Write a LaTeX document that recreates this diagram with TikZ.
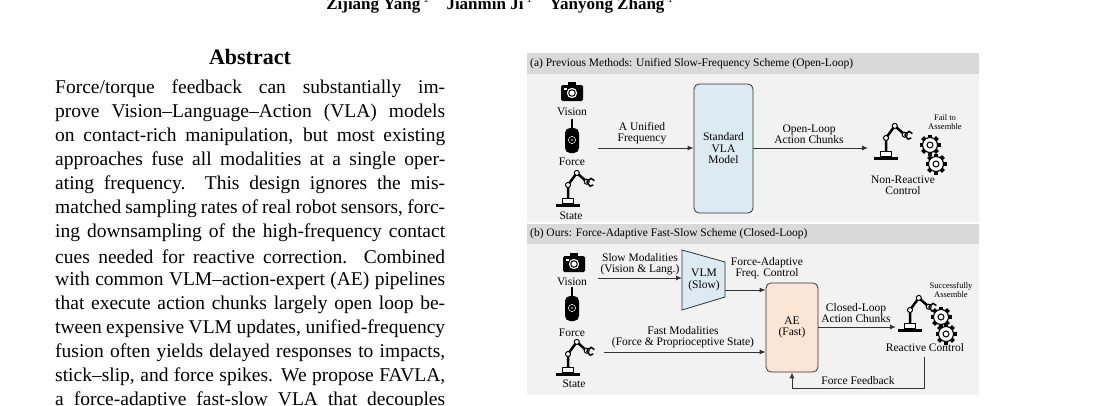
\documentclass[tikz,border=0pt]{standalone}
\usepackage{fontspec}
\setmainfont{Liberation Serif}
\usetikzlibrary{arrows.meta}
\definecolor{hdr}{HTML}{D9D9D9}
\definecolor{pnl}{HTML}{F2F2F2}
\definecolor{vla}{HTML}{DCEAF2}
\definecolor{ae}{HTML}{FBE6D6}
\begin{document}
\begin{tikzpicture}[x=1pt,y=-1pt,
  lbl/.style={font=\fontsize{11.5}{11.5}\selectfont,align=center,inner sep=0pt},
  sm/.style={font=\fontsize{8.5}{9.5}\selectfont,align=center,inner sep=0pt},
  hd/.style={font=\fontsize{11.5}{12}\selectfont,anchor=west,inner sep=0pt},
  arr/.style={-{Latex[length=6pt,width=5pt]},line width=0.9pt,draw=black!80},
  box/.style={draw=black!80,line width=0.8pt,rounded corners=5pt},
  ab/.style={font=\fontsize{19.5}{24}\selectfont,anchor=west,inner sep=0pt},
  camera/.pic={\fill[black,rounded corners=1.5pt] (-11,-7) rectangle (11,9);
     \fill[black] (-4,-10) rectangle (4,-6);
     \fill[white] (0,1) circle (5.2); \fill[black] (0,1) circle (3.8); \fill[white] (0,1) circle (2.6);
     \fill[white] (-8,-4) rectangle (-5,-2.5);},
  sensor/.pic={\draw[black,line width=2.5pt] (0,-18) -- (0,-8);
     \fill[black,rounded corners=5pt] (-7,-9) rectangle (7,16);
     \draw[white,line width=0.5pt] (0,3) circle (3.6); \fill[white] (0,3) circle (0.8);},
  robot/.pic={\begin{scope}[scale=1.1]
     \fill[black] (-11,0) rectangle (11,-3);
     \draw[black,line width=1.4pt,fill=white] (-5,-3) rectangle (5,-8);
     \draw[black,line width=2.5pt] (0,-8) -- (0,-20) -- (8,-31) -- (17,-23);
     \foreach \p in {(0,-20),(8,-31),(17,-23)} \draw[black,line width=1pt,fill=white] \p circle (2.3);
     \draw[black,line width=1.5pt] (17,-23) -- ++(4,-3) -- ++(3,2);
     \draw[black,line width=1.5pt] (17,-23) -- ++(3,4) -- ++(3,-1);
     \end{scope}},
  gear/.pic={\foreach \a in {0,45,...,315}
       \fill[black,rotate=\a] (-2,-10.5) rectangle (2,-6);
     \draw[black,line width=1.1pt,fill=white] (0,0) circle (7.5);
     \draw[black,line width=1pt] (0,0) circle (3);}
]
\useasboundingbox (0,0) rectangle (1104,405);
\clip (0,0) rectangle (1104,405);
\fill[white] (0,0) rectangle (1104,405);
\node[font=\fontsize{17}{18}\bfseries\selectfont,inner sep=0pt] (title) at (500,4)
  {Zijiang Yang\,$^{1}$\quad Jianmin Ji\,$^{1}$\quad Yanyong Zhang\,$^{1}$};
\node[font=\fontsize{22}{24}\bfseries\selectfont,inner sep=0pt] (abs) at (250,57) {Abstract};
\foreach \t [count=\i] in {
 {Force/torque feedback can substantially im-},
 {prove Vision–Language–Action (VLA) models},
 {on contact-rich manipulation, but most existing},
 {approaches fuse all modalities at a single oper-},
 {ating frequency.\ \ This design ignores the mis-},
 {matched sampling rates of real robot sensors, forc-},
 {ing downsampling of the high-frequency contact},
 {cues needed for reactive correction.\ \ Combined},
 {with common VLM–action-expert (AE) pipelines},
 {that execute action chunks largely open loop be-},
 {tween expensive VLM updates, unified-frequency},
 {fusion often yields delayed responses to impacts,},
 {stick–slip, and force spikes. We propose FAVLA,},
 {a force-adaptive fast-slow VLA that decouples}}
 \node[ab] (l\i) at (55,{89+(\i-1)*24}) {\makebox[390pt][s]{\t}};
% panel (a)
\fill[pnl] (527,53) rectangle (979,222);
\fill[hdr] (527,53) rectangle (979,74);
\node[hd] (ha) at (530,64) {(a) Previous Methods: Unified Slow-Frequency Scheme (Open-Loop)};
\pic at (572,92) {camera};
\node[lbl] (va) at (572,112) {Vision};
\pic at (572,137) {sensor};
\node[lbl] (fa) at (572,162) {Force};
\pic at (568,207) {robot};
\node[lbl] (sa) at (571,216) {State};
\coordinate (ina) at (598,148);
\node[box,fill=vla,minimum width=59pt,minimum height=129pt,lbl] (vlam) at (723.5,148.5) {Standard\\VLA\\Model};
\draw[arr] (ina) -- (vlam.west |- ina);
\node[lbl] (ufa) at (642,133) {A Unified\\Frequency};
\coordinate (outa) at (868,148);
\draw[arr] (vlam.east |- outa) -- (outa);
\node[lbl] (oca) at (809,134) {Open-Loop\\Action Chunks};
\pic at (886,160) {robot};
\pic at (930,145) {gear};
\pic at (936,164) {gear};
\node[sm] (fail) at (945,122) {Fail to\\Assemble};
\node[lbl] (nrc) at (903,185) {Non-Reactive\\Control};
% panel (b)
\fill[pnl] (527,224) rectangle (979,395);
\fill[hdr] (527,224) rectangle (979,244);
\node[hd] (hb) at (530,234) {(b) Ours: Force-Adaptive Fast-Slow Scheme (Closed-Loop)};
\pic at (574,263) {camera};
\node[lbl] (vb) at (572,282) {Vision};
\pic at (572,305) {sensor};
\node[lbl] (fb) at (572,333) {Force};
\pic at (568,376) {robot};
\node[lbl] (sb) at (574,384) {State};
\draw[draw=black!80,line width=0.8pt,fill=vla] (682,250) -- (725,262) -- (725,297) -- (682,310) -- cycle;
\node[lbl] (vlm) at (704,280) {VLM\\(Slow)};
\node[box,fill=ae,minimum width=52pt,minimum height=89pt,lbl] (aeb) at (792,327.5) {AE\\(Fast)};
\coordinate (inb) at (598,278);
\coordinate (vlmin) at (682,278);
\draw[arr] (inb) -- (vlmin);
\node[lbl] (slm) at (640,264) {Slow Modalities\\(Vision \& Lang.)};
\coordinate (vlmout) at (725,290);
\draw[arr] (vlmout) -- (aeb.west |- vlmout);
\node[lbl] (fac) at (767,268) {Force-Adaptive\\Freq. Control};
\coordinate (fin) at (604,352);
\draw[arr] (fin) -- (aeb.west |- fin);
\node[lbl] (fm) at (683,337) {Fast Modalities\\(Force \& Proprioceptive State)};
\coordinate (outb) at (896,327);
\draw[arr] (aeb.east |- outb) -- (outb);
\node[lbl] (ccb) at (856,313) {Closed-Loop\\Action Chunks};
\pic at (910,332) {robot};
\pic at (941,317) {gear};
\pic at (946,334) {gear};
\node[sm] (succ) at (951,290) {Successfully\\Assemble};
\node[lbl] (rc) at (925,348) {Reactive Control};
\coordinate (fbs) at (924,357);
\draw[arr] (fbs) |- (792,388) -- (aeb.south);
\node[lbl] (ffb) at (858,381) {Force Feedback};
\end{tikzpicture}
\end{document}
